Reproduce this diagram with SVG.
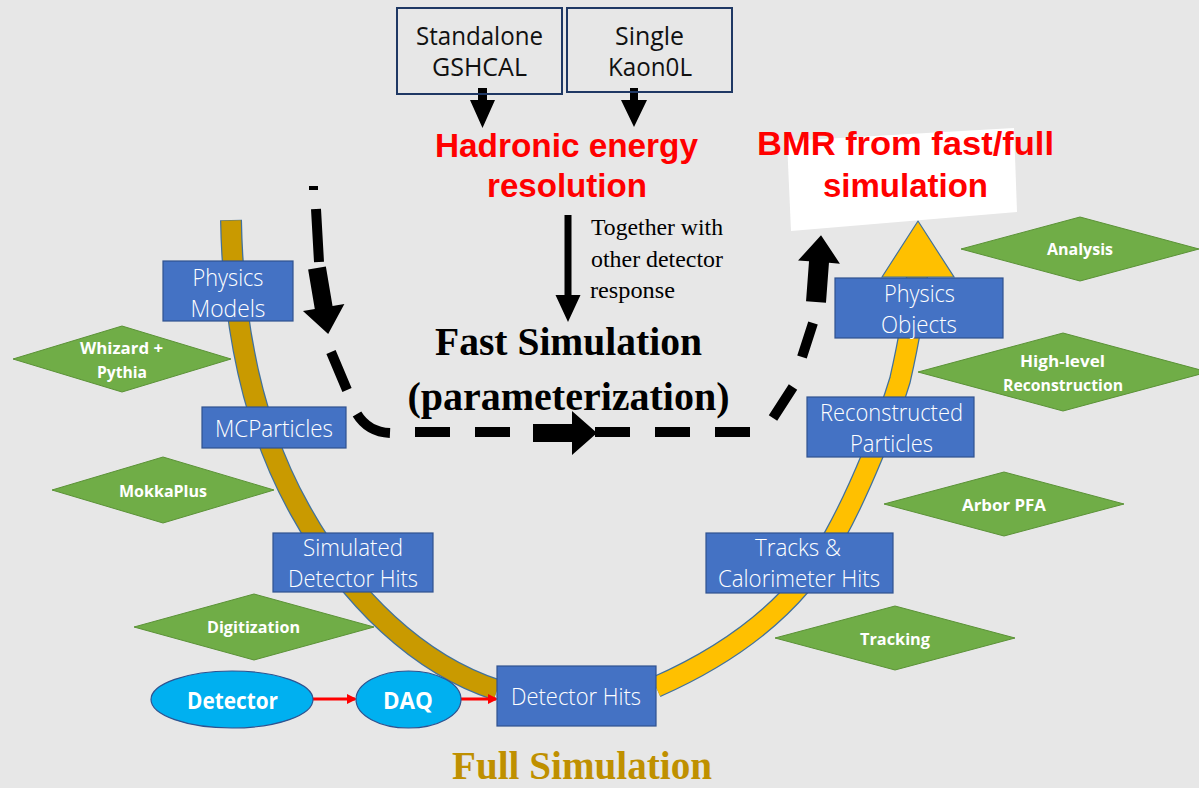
<svg xmlns="http://www.w3.org/2000/svg" width="1199" height="788" viewBox="0 0 1199 788">
<style>
.bg{fill:#e7e7e7}
.box{fill:#4472c4;stroke:#2f528f;stroke-width:1.2}
.btxt{font-family:"Open Sans","Noto Sans",sans-serif;font-weight:300;font-size:24px;fill:#ffffff;text-anchor:middle}
.dia{fill:#70ad47;stroke:#5b9237;stroke-width:1}
.dtxt{font-family:"Open Sans","Noto Sans",sans-serif;font-weight:700;font-size:16px;fill:#ffffff;text-anchor:middle}
.ell{fill:#00b0f0;stroke:#2f528f;stroke-width:1.2}
.etxt{font-family:"Open Sans","Noto Sans",sans-serif;font-weight:700;font-size:24px;fill:#ffffff;text-anchor:middle}
.tbox{fill:none;stroke:#1f3864;stroke-width:2}
.ttxt{font-family:"Open Sans","Noto Sans",sans-serif;font-size:25px;fill:#111111;text-anchor:middle}
.red{font-family:"Liberation Sans",Arial,sans-serif;font-weight:700;font-size:34px;fill:#ff0000;text-anchor:middle}
.serif{font-family:"Liberation Serif","Times New Roman",serif;fill:#000000}
.dash{fill:none;stroke:#000000;stroke-width:10}
.blk{fill:#000000}
.redln{stroke:#ff0000;stroke-width:3;fill:none}
</style>
<defs>
<marker id="redhead" markerWidth="10" markerHeight="10" refX="8" refY="5" orient="auto" markerUnits="userSpaceOnUse">
<path d="M0,0 L10,5 L0,10 Z" fill="#ff0000"/>
</marker>
</defs>
<rect class="bg" x="0" y="0" width="1199" height="788"/>

<g id="arcs">
<path d="M 231 220 C 233 330 255 430 300 510 C 350 600 420 665 497 690" fill="none" stroke="#41719c" stroke-width="22"/>
<path d="M 231 220.5 C 233 330 255 430 300 510 C 350 600 420 665 497 690" fill="none" stroke="#c99a00" stroke-width="19.5"/>
<path d="M 656 687 C 740 650 800 600 835 535 C 860 490 888 420 900 380 C 908 345 915 305 917 276" fill="none" stroke="#41719c" stroke-width="22"/>
<path d="M 656 687 C 740 650 800 600 835 535 C 860 490 888 420 900 380 C 908 345 915 305 917 276" fill="none" stroke="#ffc000" stroke-width="19.5"/>
<polygon points="882,277 918,221 954,277" fill="#ffc000" stroke="#41719c" stroke-width="1.2"/>
</g>

<g id="connectors">
<rect x="309" y="186" width="9" height="4" class="blk"/>
<path class="dash" d="M 316 209 L 319 262 M 331 352 L 347 390 M 357 414 Q 368 432 390 433 M 773 418 L 793 387 M 802 357 L 813 323"/>
<path class="dash" d="M 415 432 H 752" stroke-dasharray="35 25"/>
<polygon class="blk" transform="translate(317,268) rotate(80.4)" points="0,-9 40,-9 40,-21 67,0 40,21 40,9 0,9"/>
<polygon class="blk" points="533,424 572,424 572,411 597,433 572,455 572,442 533,442"/>
<polygon class="blk" transform="translate(816,302) rotate(-85.7)" points="0,-10 40,-10 40,-21 67,0 40,21 40,10 0,10"/>
<polygon class="blk" points="478,88 487,88 487,100 495,100 482.5,128 470,100 478,100"/>
<polygon class="blk" points="630,88 638,88 638,100 647,100 634,127 621,100 630,100"/>
<polygon class="blk" points="564.5,215 571.5,215 571.5,295 580.5,295 568,322 555.5,295 564.5,295"/>
<line class="redln" x1="313" y1="699" x2="355" y2="699" marker-end="url(#redhead)"/>
<line class="redln" x1="461" y1="699" x2="496" y2="699" marker-end="url(#redhead)"/>
</g>

<g id="standalone">
<rect class="tbox" x="397" y="8" width="165" height="86"/>
<text class="ttxt" x="479.5" y="45" textLength="127" lengthAdjust="spacingAndGlyphs">Standalone</text>
<text class="ttxt" x="479.5" y="76" textLength="95" lengthAdjust="spacingAndGlyphs">GSHCAL</text>
</g>
<g id="single">
<rect class="tbox" x="567" y="8" width="165" height="84"/>
<text class="ttxt" x="649.5" y="45" textLength="69" lengthAdjust="spacingAndGlyphs">Single</text>
<text class="ttxt" x="650" y="76" textLength="84" lengthAdjust="spacingAndGlyphs">Kaon0L</text>
</g>
<g id="hadronic">
<text class="red" x="566.5" y="157" textLength="263" lengthAdjust="spacingAndGlyphs">Hadronic energy</text>
<text class="red" x="567" y="197" textLength="160" lengthAdjust="spacingAndGlyphs">resolution</text>
</g>
<g id="together">
<text class="serif" x="591" y="235" font-size="23" textLength="132" lengthAdjust="spacingAndGlyphs">Together with</text>
<text class="serif" x="591" y="267" font-size="23" textLength="132" lengthAdjust="spacingAndGlyphs">other detector</text>
<text class="serif" x="590" y="298" font-size="23" textLength="85" lengthAdjust="spacingAndGlyphs">response</text>
</g>
<g id="fastsim">
<text class="serif" x="568.5" y="355" font-size="40" font-weight="700" text-anchor="middle" textLength="267" lengthAdjust="spacingAndGlyphs">Fast Simulation</text>
<text class="serif" x="568.5" y="410" font-size="40" font-weight="700" text-anchor="middle" textLength="322" lengthAdjust="spacingAndGlyphs">(parameterization)</text>
</g>
<g id="bmr">
<polygon points="787,141 1014,128 1017,212 791,231" fill="#ffffff"/>
<text class="red" x="905.5" y="155" textLength="297" lengthAdjust="spacingAndGlyphs">BMR from fast/full</text>
<text class="red" x="905.5" y="197" textLength="165" lengthAdjust="spacingAndGlyphs">simulation</text>
</g>
<g id="fullsim">
<text class="serif" x="582" y="779" font-size="40" font-weight="700" style="fill:#bf9000" text-anchor="middle" textLength="260" lengthAdjust="spacingAndGlyphs">Full Simulation</text>
</g>

<g id="physics-models">
<rect class="box" x="163" y="261" width="130" height="60"/>
<text class="btxt" x="228" y="286" textLength="71" lengthAdjust="spacingAndGlyphs">Physics</text>
<text class="btxt" x="228" y="317" textLength="75" lengthAdjust="spacingAndGlyphs">Models</text>
</g>
<g id="mcparticles">
<rect class="box" x="202" y="407" width="144" height="41"/>
<text class="btxt" x="274" y="437" textLength="118" lengthAdjust="spacingAndGlyphs">MCParticles</text>
</g>
<g id="simulated-hits">
<rect class="box" x="273" y="533" width="160" height="59"/>
<text class="btxt" x="353" y="556" textLength="100" lengthAdjust="spacingAndGlyphs">Simulated</text>
<text class="btxt" x="353" y="587" textLength="130" lengthAdjust="spacingAndGlyphs">Detector Hits</text>
</g>
<g id="detector-hits">
<rect class="box" x="497" y="666" width="159" height="60"/>
<text class="btxt" x="576" y="705" textLength="130" lengthAdjust="spacingAndGlyphs">Detector Hits</text>
</g>
<g id="tracks-calo">
<rect class="box" x="706" y="533" width="187" height="60"/>
<text class="btxt" x="798" y="556" textLength="86" lengthAdjust="spacingAndGlyphs">Tracks &amp;</text>
<text class="btxt" x="799" y="587" textLength="162" lengthAdjust="spacingAndGlyphs">Calorimeter Hits</text>
</g>
<g id="reco-particles">
<rect class="box" x="807" y="397" width="167" height="60"/>
<text class="btxt" x="891.5" y="421" textLength="143" lengthAdjust="spacingAndGlyphs">Reconstructed</text>
<text class="btxt" x="891.5" y="452" textLength="83" lengthAdjust="spacingAndGlyphs">Particles</text>
</g>
<g id="physics-objects">
<rect class="box" x="835" y="278" width="168" height="60"/>
<text class="btxt" x="919.5" y="302" textLength="71" lengthAdjust="spacingAndGlyphs">Physics</text>
<text class="btxt" x="919" y="333" textLength="76" lengthAdjust="spacingAndGlyphs">Objects</text>
</g>

<g id="whizard">
<polygon class="dia" points="13,359 122,326 231,359 122,392"/>
<text class="dtxt" x="121.5" y="354" textLength="83" lengthAdjust="spacingAndGlyphs">Whizard +</text>
<text class="dtxt" x="122" y="378" textLength="50" lengthAdjust="spacingAndGlyphs">Pythia</text>
</g>
<g id="mokkaplus">
<polygon class="dia" points="52,490 163,457 274,490 163,523"/>
<text class="dtxt" x="163" y="497" textLength="88" lengthAdjust="spacingAndGlyphs">MokkaPlus</text>
</g>
<g id="digitization">
<polygon class="dia" points="134,627 254,594 374,627 254,660"/>
<text class="dtxt" x="253.5" y="633" textLength="93" lengthAdjust="spacingAndGlyphs">Digitization</text>
</g>
<g id="tracking">
<polygon class="dia" points="775,638 895,606 1015,638 895,670"/>
<text class="dtxt" x="895" y="645" textLength="70" lengthAdjust="spacingAndGlyphs">Tracking</text>
</g>
<g id="arbor">
<polygon class="dia" points="884,504 1004,472 1124,504 1004,536"/>
<text class="dtxt" x="1004" y="511" textLength="84" lengthAdjust="spacingAndGlyphs">Arbor PFA</text>
</g>
<g id="highlevel">
<polygon class="dia" points="918,372 1063,333 1208,372 1063,411"/>
<text class="dtxt" x="1062.5" y="367" textLength="85" lengthAdjust="spacingAndGlyphs">High-level</text>
<text class="dtxt" x="1063" y="391" textLength="120" lengthAdjust="spacingAndGlyphs">Reconstruction</text>
</g>
<g id="analysis">
<polygon class="dia" points="961,249 1080,217 1199,249 1080,281"/>
<text class="dtxt" x="1080" y="255" textLength="66" lengthAdjust="spacingAndGlyphs">Analysis</text>
</g>

<g id="detector">
<ellipse class="ell" cx="232" cy="699.5" rx="81" ry="28.5"/>
<text class="etxt" x="232.5" y="709" textLength="91" lengthAdjust="spacingAndGlyphs">Detector</text>
</g>
<g id="daq">
<ellipse class="ell" cx="408.5" cy="699.5" rx="52.5" ry="28.5"/>
<text class="etxt" x="408" y="709" textLength="50" lengthAdjust="spacingAndGlyphs">DAQ</text>
</g>
</svg>
